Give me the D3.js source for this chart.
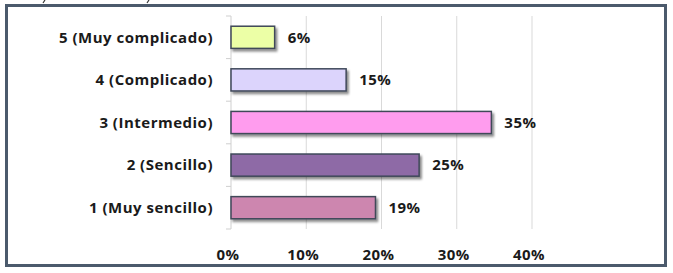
<!DOCTYPE html>
<html>
<head>
<meta charset="utf-8">
<script src="https://cdn.jsdelivr.net/npm/d3@7"></script>
<style>
  body { margin: 0; background: #fff; }
  svg text { font-family: "Open Sans", "Noto Sans", sans-serif; font-weight: bold; fill: #1a1a1a; }
</style>
</head>
<body>
<svg id="chart" width="673" height="273"></svg>
<script>
// categories, top to bottom
const categories = ["5 (Muy complicado)", "4 (Complicado)", "3 (Intermedio)", "2 (Sencillo)", "1 (Muy sencillo)"];
const values = [0.058, 0.153, 0.346, 0.25, 0.192];
const colors = ["#ecffa6", "#dcd4fc", "#ff9cee", "#8e6aa6", "#cd86af"];
const xTicks = [0, 0.1, 0.2, 0.3, 0.4];

const svg = d3.select("#chart");

// frame
svg.append("rect")
  .attr("x", 6.5).attr("y", 5.5)
  .attr("width", 659).attr("height", 260)
  .attr("fill", "#fff")
  .attr("stroke", "#4b5a6c")
  .attr("stroke-width", 3);

// bits of text cut off at the top
svg.append("path").attr("d", "M45,0 L43,3").attr("stroke", "#333").attr("stroke-width", 1.2);
svg.append("path").attr("d", "M149,0 L147,3").attr("stroke", "#333").attr("stroke-width", 1.2);

const defs = svg.append("defs");
const f = defs.append("filter").attr("id", "shadow")
  .attr("x", "-10%").attr("y", "-30%").attr("width", "130%").attr("height", "180%");
f.append("feDropShadow")
  .attr("dx", 2).attr("dy", 2.5).attr("stdDeviation", 1.3)
  .attr("flood-color", "#000").attr("flood-opacity", 0.45);

const x = d3.scaleLinear().domain([0, 0.4]).range([231, 532]);
const y = d3.scaleBand().domain(categories).range([16, 229]).paddingInner(0.48).paddingOuter(0.24);

// gridlines
svg.append("g")
  .selectAll("line")
  .data(xTicks.slice(1))
  .enter().append("line")
  .attr("x1", d => x(d)).attr("x2", d => x(d))
  .attr("y1", 16).attr("y2", 229)
  .attr("stroke", "#d9d9d9").attr("stroke-width", 1);

// y axis line and ticks
svg.append("line")
  .attr("x1", x(0)).attr("x2", x(0)).attr("y1", 16).attr("y2", 229)
  .attr("stroke", "#cfcfcf");
const bandEdges = d3.range(categories.length + 1).map(i => 16 + i * (229 - 16) / categories.length);
svg.append("g")
  .selectAll("line")
  .data(bandEdges)
  .enter().append("line")
  .attr("x1", x(0) - 5).attr("x2", x(0))
  .attr("y1", d => d).attr("y2", d => d)
  .attr("stroke", "#cfcfcf");

// category labels
svg.append("g")
  .selectAll("text")
  .data(categories)
  .enter().append("text")
  .attr("x", 213)
  .attr("y", d => y(d) + y.bandwidth() / 2)
  .attr("dy", "0.35em")
  .attr("text-anchor", "end")
  .style("font-size", "15px")
  .style("letter-spacing", "0.5px")
  .text(d => d);

// bars
svg.append("g")
  .selectAll("rect")
  .data(values)
  .enter().append("rect")
  .attr("x", x(0))
  .attr("y", (d, i) => y(categories[i]))
  .attr("width", d => x(d) - x(0))
  .attr("height", y.bandwidth())
  .attr("fill", (d, i) => colors[i])
  .attr("stroke", "#3f4859")
  .attr("stroke-width", 1.5)
  .attr("filter", "url(#shadow)");

// value labels
const pct = d3.format(".0%");
svg.append("g")
  .selectAll("text")
  .data(values)
  .enter().append("text")
  .attr("x", d => x(d) + 13)
  .attr("y", (d, i) => y(categories[i]) + y.bandwidth() / 2)
  .attr("dy", "0.35em")
  .style("font-size", "15px")
  .style("letter-spacing", "0.5px")
  .text(d => pct(d));

// x tick labels
svg.append("g")
  .selectAll("text")
  .data(xTicks)
  .enter().append("text")
  .attr("x", d => x(d) - 3)
  .attr("y", 255)
  .attr("dy", "0.35em")
  .attr("text-anchor", "middle")
  .style("font-size", "15px")
  .style("letter-spacing", "0.5px")
  .text(d => pct(d));
</script>
</body>
</html>
